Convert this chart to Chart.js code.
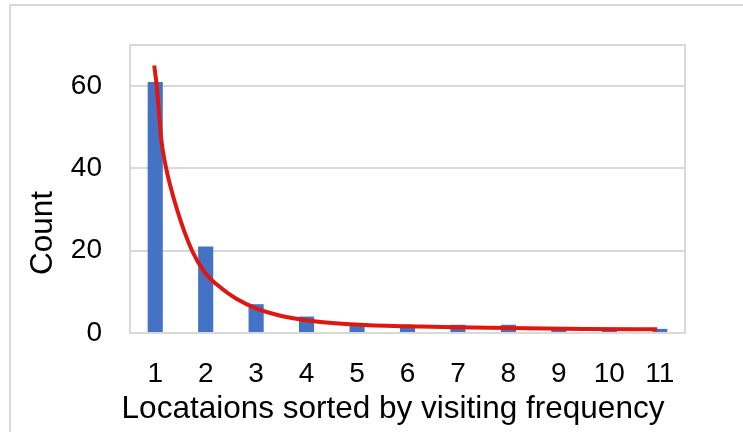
<!DOCTYPE html>
<html>
<head>
<meta charset="utf-8">
<script src="https://cdn.jsdelivr.net/npm/chart.js@4.4.1/dist/chart.umd.min.js"></script>
<style>
  body { margin: 0; background: #fff; overflow: hidden; }
  #frame { position: absolute; left: 9px; top: 4px; width: 800px; height: 500px; border: 2px solid #d9d9d9; }
  #wrap { position: absolute; left: 0; top: 0; width: 743px; height: 432px; }
</style>
</head>
<body>
<div id="frame"></div>
<div id="wrap"><canvas id="chartCanvas" width="743" height="432"></canvas></div>
<script>
var labels = ["1", "2", "3", "4", "5", "6", "7", "8", "9", "10", "11"];
var counts = [61, 21, 7, 4, 2, 2, 2, 2, 1, 1, 1];

// red trend curve (x in category units)
var trendX = [0.98, 1.03, 1.12, 1.2, 1.42, 1.73, 1.99, 2.3, 2.6, 3.0, 3.48, 4.07, 5.06, 6.25, 7.3, 8.37, 9.5, 10.95];
var trendY = [65, 60, 47, 41, 30.5, 20, 14.6, 11, 8.4, 6.0, 4.2, 3.0, 2.0, 1.55, 1.35, 1.15, 1.0, 0.9];

var yTicks = [0, 20, 40, 60];

var font = '"Liberation Sans", Arial, sans-serif';

var boxPlugin = {
  id: "box",
  beforeDatasetsDraw: function(chart) {
    var a = chart.chartArea, ctx = chart.ctx;
    ctx.save();
    ctx.strokeStyle = "#d9d9d9";
    ctx.lineWidth = 2;
    ctx.strokeRect(a.left, a.top, a.right - a.left, a.bottom - a.top);
    ctx.restore();
  },
  afterDraw: function(chart) {
    var ctx = chart.ctx;
    ctx.save();
    ctx.fillStyle = "#000";
    ctx.font = "31.5px " + font;
    ctx.textAlign = "center";
    ctx.textBaseline = "alphabetic";
    ctx.fillText("Locataions sorted by visiting frequency", 393, 418);
    ctx.translate(52, 233);
    ctx.rotate(-Math.PI / 2);
    ctx.fillText("Count", 0, 0);
    ctx.restore();
  }
};

var trendData = [];
for (var i = 0; i < trendX.length; i++) {
  trendData.push({ x: trendX[i], y: trendY[i] });
}

var canvas = document.getElementById("chartCanvas");
var chart = new Chart(canvas, {
  type: "bar",
  data: {
    labels: labels,
    datasets: [
      {
        label: "Count",
        data: counts,
        backgroundColor: "#4472c4",
        categoryPercentage: 1,
        barPercentage: 0.3,
        grouped: false,
        xAxisID: "x",
        order: 1
      },
      {
        type: "line",
        label: "Trend",
        data: trendData,
        xAxisID: "x2",
        borderColor: "#e0170f",
        borderWidth: 4,
        pointRadius: 0,
        cubicInterpolationMode: "monotone",
        order: 0
      }
    ]
  },
  plugins: [boxPlugin],
  options: {
    responsive: false,
    animation: false,
    layout: { padding: { top: 45, right: 58, left: 0, bottom: 0 } },
    plugins: { legend: { display: false }, tooltip: { enabled: false } },
    scales: {
      x: {
        type: "category",
        offset: true,
        grid: { display: false, drawTicks: false },
        border: { display: false },
        ticks: { color: "#000", font: { family: font, size: 28 }, padding: 24, maxRotation: 0, autoSkip: false },
        afterFit: function(s) { s.height = 99; }
      },
      x2: {
        type: "linear",
        min: 0.5,
        max: 11.5,
        offset: false,
        display: false
      },
      y: {
        min: 0,
        max: 70,
        grid: { color: "#d9d9d9", lineWidth: 2, drawTicks: false },
        border: { display: false },
        ticks: { color: "#000", font: { family: font, size: 28 }, padding: 28, stepSize: 20 },
        afterBuildTicks: function(s) {
          s.ticks = yTicks.map(function(v) { return { value: v }; });
        },
        afterFit: function(s) { s.width = 130; }
      }
    }
  }
});
</script>
</body>
</html>
